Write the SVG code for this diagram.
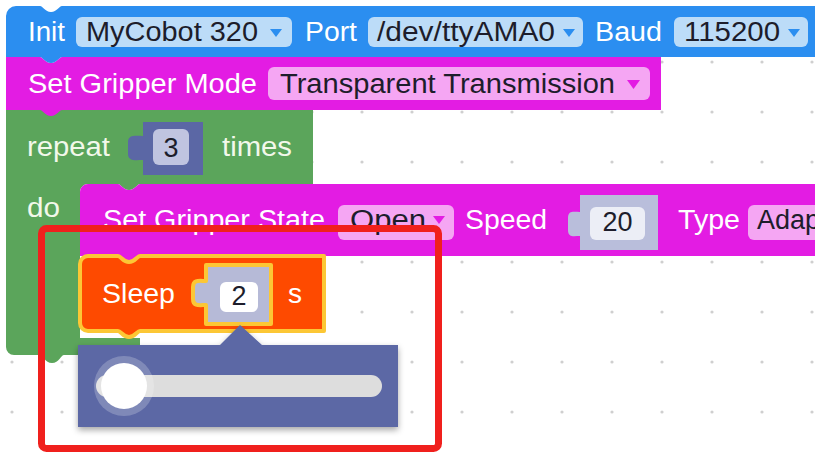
<svg xmlns="http://www.w3.org/2000/svg" width="815" height="454" viewBox="0 0 815 454">
<style>
.t{font-family:"Liberation Sans",Arial,sans-serif;font-size:27px;}
.w{fill:#ffffff;}
.g{fill:#f2f8ea;}
.d{fill:#1d1d2b;}
.sel{stroke:#fcc735;stroke-width:4;stroke-linejoin:round;}
</style>
<defs>
<pattern id="grid" x="-13" y="-13" width="50" height="50" patternUnits="userSpaceOnUse">
<circle cx="25" cy="25" r="1.6" fill="#cfcfcf"/>
</pattern>
<filter id="sh" x="-10%" y="-20%" width="120%" height="150%">
<feDropShadow dx="0" dy="3" stdDeviation="3" flood-color="#000" flood-opacity="0.35"/>
</filter>
</defs>
<rect width="815" height="454" fill="#ffffff"/>
<rect width="815" height="454" fill="url(#grid)"/>

<g id="repeat">
<path d="M6,110 H313 V184 H140 c-3,0 -5,6 -11,6 s-8,-6 -11,-6 H88 a8,8 0 0 0 -8,8 V338 H140 V355 H64 c-3,0 -5,8 -12,8 s-9,-8 -12,-8 H14 a8,8 0 0 1 -8,-8 Z" fill="#5ba55b"/>
<text class="t g" x="27" y="156" textLength="83" lengthAdjust="spacingAndGlyphs">repeat</text>
<path d="M143,122 H203 V175 H143 V160 c-6,0 -15,2 -15,-6 v-12 c0,-8 9,-6 15,-6 Z" fill="#5b67a5"/>
<rect x="153" y="129" width="36" height="36" rx="6" fill="#c0c4e0"/>
<text class="t d" x="171" y="157" text-anchor="middle">3</text>
<text class="t g" x="222" y="156" textLength="70" lengthAdjust="spacingAndGlyphs">times</text>
<text class="t g" x="27" y="217" textLength="33" lengthAdjust="spacingAndGlyphs">do</text>
</g>

<g id="set_gripper_mode">
<path d="M6,57 H40 c3,0 5,6 11,6 s8,-6 11,-6 H661 V110 H62 c-3,0 -5,6 -11,6 s-8,-6 -11,-6 H6 Z" fill="#e31ce3"/>
<text class="t w" x="28" y="93" textLength="229" lengthAdjust="spacingAndGlyphs">Set Gripper Mode</text>
<rect x="268" y="67" width="382" height="33" rx="6" fill="#f5a6f3"/>
<text class="t d" x="280" y="93" textLength="335" lengthAdjust="spacingAndGlyphs">Transparent Transmission</text>
<polygon points="627,80 640,80 633.5,89" fill="#e31ce3"/>
</g>

<g id="init">
<path d="M6,16 a10,10 0 0 1 10,-10 H40 c3,0 5,6 11,6 s8,-6 11,-6 H815 V57 H62 c-3,0 -5,6 -11,6 s-8,-6 -11,-6 H6 Z" fill="#2b8ef0"/>
<text class="t w" x="28" y="41" textLength="37" lengthAdjust="spacingAndGlyphs">Init</text>
<rect x="76" y="17" width="216" height="30" rx="6" fill="#bcdcf8"/>
<text class="t d" x="86" y="41" textLength="172" lengthAdjust="spacingAndGlyphs">MyCobot 320</text>
<polygon points="270,29 282,29 276,37" fill="#2b8ef0"/>
<text class="t w" x="305" y="41" textLength="52" lengthAdjust="spacingAndGlyphs">Port</text>
<rect x="368" y="17" width="215" height="30" rx="6" fill="#bcdcf8"/>
<text class="t d" x="377" y="41" textLength="178" lengthAdjust="spacingAndGlyphs">/dev/ttyAMA0</text>
<polygon points="563,29 575,29 569,37" fill="#2b8ef0"/>
<text class="t w" x="595" y="41" textLength="67" lengthAdjust="spacingAndGlyphs">Baud</text>
<rect x="674" y="17" width="134" height="30" rx="6" fill="#bcdcf8"/>
<text class="t d" x="684" y="41" textLength="96" lengthAdjust="spacingAndGlyphs">115200</text>
<polygon points="788,29 800,29 794,37" fill="#2b8ef0"/>
</g>

<g id="set_gripper_state">
<path d="M80,192 a8,8 0 0 1 8,-8 H118 c3,0 5,6 11,6 s8,-6 11,-6 H815 V256 H140 c-3,0 -5,6 -11,6 s-8,-6 -11,-6 H80 Z" fill="#e31ce3"/>
<text class="t w" x="103" y="229" textLength="222" lengthAdjust="spacingAndGlyphs">Set Gripper State</text>
<rect x="338" y="205" width="116" height="35" rx="6" fill="#f5a6f3"/>
<text class="t d" x="350" y="229" textLength="76" lengthAdjust="spacingAndGlyphs">Open</text>
<polygon points="433,216 445,216 439,224" fill="#e31ce3"/>
<text class="t w" x="465" y="229" textLength="82" lengthAdjust="spacingAndGlyphs">Speed</text>
<path d="M580,195 H658 V250 H580 V236 c-6,0 -12,2 -12,-6 v-12 c0,-8 6,-6 12,-6 Z" fill="#b9bedb"/>
<rect x="590" y="207" width="55" height="33" rx="6" fill="#eceef6"/>
<text class="t d" x="617.5" y="231" text-anchor="middle">20</text>
<text class="t w" x="678" y="229" textLength="62" lengthAdjust="spacingAndGlyphs">Type</text>
<rect x="748" y="205" width="90" height="35" rx="6" fill="#f5a6f3"/>
<text class="t d" x="757" y="229">Adap</text>
</g>

<g id="sleep">
<path class="sel" d="M80,264 a8,8 0 0 1 8,-8 H118 c3,0 5,6 11,6 s8,-6 11,-6 H324 V331 H140 c-3,0 -5,6 -11,6 s-8,-6 -11,-6 H88 a8,8 0 0 1 -8,-8 Z" fill="#fe4a00"/>
<text class="t w" x="102" y="303" textLength="73" lengthAdjust="spacingAndGlyphs">Sleep</text>
<path class="sel" d="M206,265 H271 V324 H206 V305 c-6,0 -13,2 -13,-6 v-12 c0,-8 7,-6 13,-6 Z" fill="#b6bad7"/>
<rect x="220" y="282" width="38" height="30" rx="6" fill="#ffffff"/>
<text class="t d" x="239" y="305" text-anchor="middle">2</text>
<text class="t w" x="288" y="303" textLength="14" lengthAdjust="spacingAndGlyphs">s</text>
</g>

<g id="slider_popup">
<g filter="url(#sh)">
<path d="M78,345 H220 L240,325 L262,345 H398 V427 H78 Z" fill="#5b67a5"/>
</g>
<rect x="96" y="375" width="286" height="22" rx="11" fill="#dddddd"/>
<circle cx="124" cy="386" r="30" fill="#ffffff" fill-opacity="0.22"/>
<circle cx="124" cy="386" r="23" fill="#ffffff"/>
</g>

<g id="connectors"></g>

<g id="highlight">
<rect x="41.5" y="228.5" width="397" height="220" rx="5" fill="none" stroke="#f0201d" stroke-width="7"/>
</g>
</svg>
